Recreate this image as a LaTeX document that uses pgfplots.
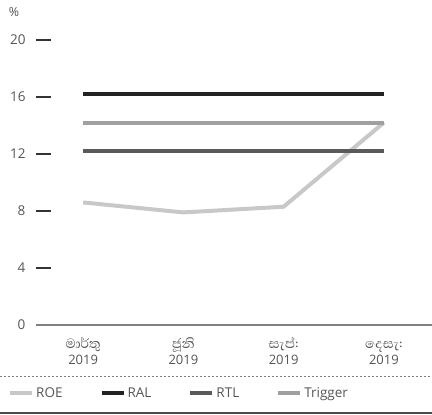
\documentclass[border=0pt]{standalone}
\usepackage{fontspec}
\setmainfont{Open Sans}
\newfontfamily\sinhala[Script=Sinhala]{Abhaya Libre}
\usepackage{pgfplots}
\pgfplotsset{compat=1.18}

\definecolor{roe}{HTML}{C8C8C8}
\definecolor{ral}{HTML}{222222}
\definecolor{rtl}{HTML}{5A5A5A}
\definecolor{trig}{HTML}{A0A0A0}
\definecolor{txt}{HTML}{555555}

% Sinhala month line above the year
\newcommand{\mon}[1]{{\sinhala\fontsize{17}{16}\selectfont\rule{0pt}{12pt}#1}}

\begin{document}
\begin{tikzpicture}[x=1pt,y=1pt]
\path[use as bounding box] (0,0) rectangle (432,415);
\begin{axis}[
  at={(36pt,90pt)}, anchor=south west,
  scale only axis, width=396pt, height=285pt,
  xmin=-0.47, xmax=3.48, ymin=0, ymax=20,
  axis x line*=bottom, axis y line*=left,
  x axis line style={draw=gray, line width=2pt},
  y axis line style={draw=none},
  xtick={0,1,2,3},
  xticklabels={\mon{මාර්තු}\\2019,
               \mon{ජූනි}\\2019,
               \mon{සැප්:}\\2019,
               \mon{දෙසැ:}\\2019},
  xticklabel style={align=center, text=txt, anchor=north, yshift=-8pt,
    font=\fontsize{13}{16}\selectfont},
  x tick style={draw=none},
  ytick={4,8,12,16,20},
  extra y ticks={0},
  extra y tick style={major tick length=0pt},
  tick align=inside,
  major tick length=15pt,
  y tick style={draw=black!80, line width=1.1pt},
  yticklabel style={text=txt, font=\fontsize{13.5}{16}\selectfont, xshift=-7pt},
  /pgf/number format/assume math mode=true,
  legend columns=4,
  legend style={at={(-0.0707,-0.2386)}, anchor=west, draw=none, fill=none,
    inner sep=0pt, font=\fontsize{13.5}{15}\selectfont, text=txt,
    /tikz/every even column/.append style={column sep=35pt}},
  legend image code/.code={\draw[#1] (0pt,0pt) -- (17pt,0pt); \path (0pt,0pt) -- (22pt,0pt);},
]
\addplot[roe, line width=4pt] coordinates {(0,8.6) (1,7.9) (2,8.3) (3,14.2)};
\addlegendentry{ROE}
\addplot[ral, line width=4pt] coordinates {(0,16.2) (1,16.2) (2,16.2) (3,16.2)};
\addlegendentry{RAL}
\addplot[rtl, line width=4pt] coordinates {(0,12.2) (1,12.2) (2,12.2) (3,12.2)};
\addlegendentry{RTL}
\addplot[trig, line width=4pt] coordinates {(0,14.2) (1,14.2) (2,14.2) (3,14.2)};
\addlegendentry{Trigger}
\end{axis}
\node[text=txt, font=\fontsize{12.5}{15}\selectfont] at (14,403) {\%};
\draw[gray, line width=1pt, dash pattern=on 2pt off 2pt] (0,38) -- (432,38);
\draw[black!70, line width=1.5pt] (0,2) -- (432,2);
\end{tikzpicture}
\end{document}
